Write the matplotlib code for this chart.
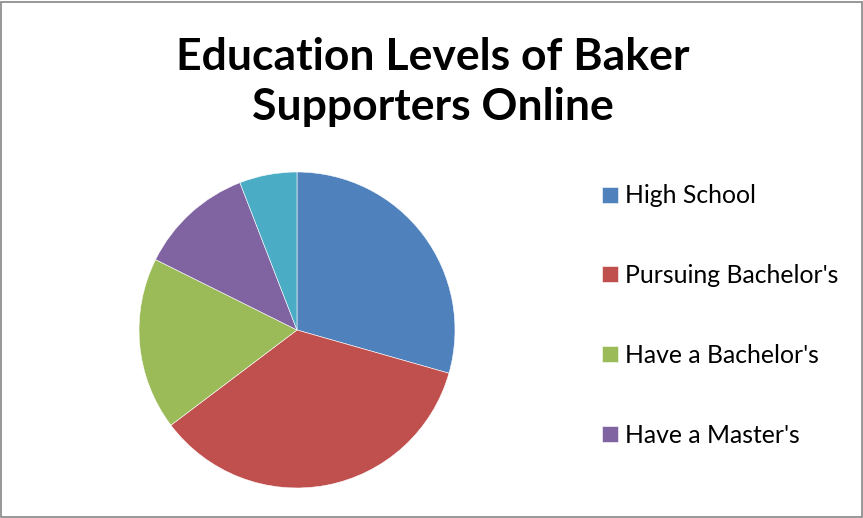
import matplotlib.pyplot as plt
from matplotlib.patches import Rectangle

# education level counts of supporters
levels = ["High School", "Pursuing Bachelor's", "Have a Bachelor's",
          "Have a Master's", "Have a Doctorate"]
counts = [5, 6, 3, 2, 1]
colors = ["#4F81BD", "#C0504D", "#9BBB59", "#8064A2", "#4BACC6"]

plt.rcParams['font.family'] = ['Lato', 'DejaVu Sans']

W, H = 863, 518
fig = plt.figure(figsize=(W / 100, H / 100), dpi=100)

# pie centred at (297, 330) px, radius 158 px
cx, cy, r = 297, 330, 158
ax = fig.add_axes([(cx - r) / W, 1 - (cy + r) / H, 2 * r / W, 2 * r / H])
wedges, _ = ax.pie(counts, colors=colors, startangle=90, counterclock=False,
                   radius=1, wedgeprops=dict(edgecolor="white", linewidth=0.4))
ax.set_xlim(-1, 1)
ax.set_ylim(-1, 1)
ax.set_aspect("equal")
ax.axis("off")

fig.text(433 / W, 1 - 82 / H, "Education Levels of Baker\nSupporters Online",
         ha="center", va="center", fontsize=32, fontweight="bold",
         linespacing=1.3)

# legend only has room for the first four entries
leg = fig.legend(wedges[:4], levels[:4], loc="upper left",
                 bbox_to_anchor=(580 / W, 1 - 162 / H), frameon=False,
                 fontsize=17.8, labelspacing=2.3, handlelength=0.62,
                 handleheight=0.62, handletextpad=0.3)

fig.patches.append(Rectangle((0.5 / W, 1.5 / H), (W - 2) / W, (H - 3) / H,
                             transform=fig.transFigure, fill=False,
                             edgecolor="#868686", linewidth=1.2))

fig.savefig("out.png", dpi=100)
